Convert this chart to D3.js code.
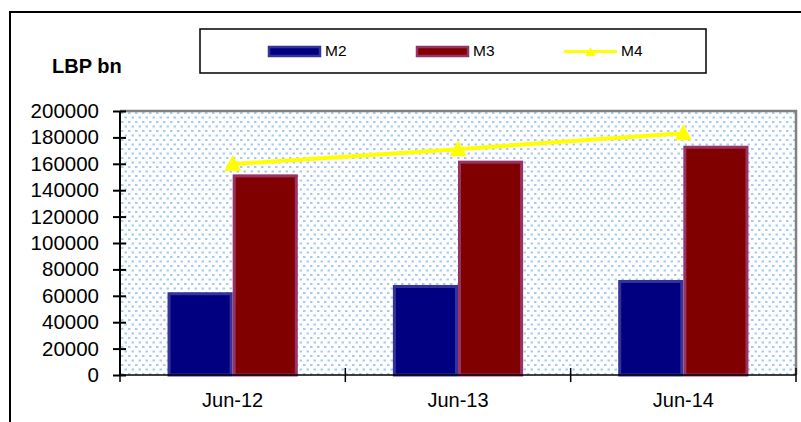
<!DOCTYPE html>
<html><head><meta charset="utf-8">
<script src="https://cdn.jsdelivr.net/npm/d3@7"></script>
<style>body{margin:0;background:#fff}svg{display:block;font-family:"Liberation Sans",Arial,sans-serif}</style>
</head><body>
<svg id="c" width="801" height="422"></svg>
<script>
const categories = ["Jun-12","Jun-13","Jun-14"];
const seriesNames = ["M2","M3","M4"];
const m2Values = [62700, 68200, 72000];
const m3Values = [152000, 162400, 173700];
const m4Values = [159800, 171100, 183200];
const yTicks = [0,20000,40000,60000,80000,100000,120000,140000,160000,180000,200000];
const yTitle = "LBP bn";

const svg = d3.select("#c");
const L = 120, R = 796, T = 111, B = 375;

// outer frame
svg.append("path").attr("d", "M10,423 L10,12 L802,12").attr("fill","none").attr("stroke","#000").attr("stroke-width",2);

// pattern
const defs = svg.append("defs");
const pat = defs.append("pattern").attr("id","dots").attr("patternUnits","userSpaceOnUse")
  .attr("width",7).attr("height",9).attr("x",L).attr("y",T);
pat.append("rect").attr("width",7).attr("height",9).attr("fill","#fff");
pat.append("rect").attr("x",1).attr("y",1).attr("width",2.5).attr("height",2).attr("fill","#a6caf0");
pat.append("rect").attr("x",4.5).attr("y",5.5).attr("width",2.5).attr("height",2).attr("fill","#a6caf0");

const x = d3.scaleBand().domain(categories).range([L, R]).padding(0);
const xs = d3.scaleBand().domain(["M2","M3"]).range([0, x.bandwidth()]).paddingInner(0).paddingOuter(0.73);
const y = d3.scaleLinear().domain([0, 200000]).range([B, T]);

// plot background
svg.append("rect").attr("x",L).attr("y",T).attr("width",R-L).attr("height",B-T).attr("fill","url(#dots)");
svg.append("path").attr("d",`M${L},${T} L${R},${T} L${R},${B}`).attr("fill","none").attr("stroke","#808080").attr("stroke-width",2.5);

// bars
const barSeries = [
  {name:"M2", values:m2Values, fill:"#000080", stroke:"#333399"},
  {name:"M3", values:m3Values, fill:"#800000", stroke:"#993366"}
];
barSeries.forEach(s => {
  svg.append("g").selectAll("rect").data(categories).join("rect")
    .attr("x", d => x(d) + xs(s.name) + 1.5)
    .attr("y", (d,i) => y(s.values[i]) + 1.5)
    .attr("width", xs.bandwidth() - 3)
    .attr("height", (d,i) => B - y(s.values[i]) - 1.5)
    .attr("fill", s.fill).attr("stroke", s.stroke).attr("stroke-width", 3);
});

// M4 line
const line = d3.line().x((d,i) => x(categories[i]) + x.bandwidth()/2).y(d => y(d));
svg.append("path").datum(m4Values).attr("d", line).attr("fill","none").attr("stroke","#ffff00").attr("stroke-width",4);
const tri = "M0,-9 L8.5,7 L-8.5,7 Z";
svg.append("g").selectAll("path").data(m4Values).join("path")
  .attr("transform", (d,i) => `translate(${x(categories[i]) + x.bandwidth()/2},${y(d)})`)
  .attr("d", tri).attr("fill","#ffff00");

// Y axis
const ya = svg.append("g").attr("transform",`translate(${L},0)`)
  .call(d3.axisLeft(y).tickValues(yTicks).tickFormat(d3.format("d")).tickSize(7).tickPadding(14));
ya.select(".domain").attr("stroke","#000").attr("stroke-width",2).attr("d",`M0,${T} V${B}`);
ya.selectAll(".tick line").attr("x1",6).attr("x2",-7).attr("stroke","#000").attr("stroke-width",2);
ya.selectAll(".tick text").attr("font-size",20.5).attr("fill","#000").attr("font-family","Liberation Sans, Arial, sans-serif");

// X axis
const xa = svg.append("g").attr("transform",`translate(0,${B})`)
  .call(d3.axisBottom(x).tickSize(0).tickPadding(18));
xa.select(".domain").attr("stroke","#000").attr("stroke-width",1.5).attr("d",`M${L},0 H${R}`);
xa.selectAll(".tick text").attr("font-size",20).attr("fill","#000").attr("font-family","Liberation Sans, Arial, sans-serif");
const edges = categories.map(c => x(c)).concat([x(categories[categories.length-1]) + x.bandwidth()]);
svg.append("g").selectAll("line").data(edges).join("line")
  .attr("x1", d => d).attr("x2", d => d).attr("y1", B - 7).attr("y2", B + 7)
  .attr("stroke","#000").attr("stroke-width",1.5);

// title
svg.append("text").attr("x",52).attr("y",73).attr("font-size",20).attr("font-weight","bold").text(yTitle);

// legend
svg.append("rect").attr("x",200).attr("y",29).attr("width",506).attr("height",44).attr("fill","#fff").attr("stroke","#000").attr("stroke-width",1.5);
const lg = [
  {name:"M2", x:268, fill:"#000080", stroke:"#333399", type:"bar"},
  {name:"M3", x:416, fill:"#800000", stroke:"#993366", type:"bar"},
  {name:"M4", x:564, type:"line"}
];
lg.forEach(l => {
  if (l.type === "bar") {
    svg.append("rect").attr("x", l.x+1).attr("y", 47).attr("width", 51).attr("height", 9)
      .attr("fill", l.fill).attr("stroke", l.stroke).attr("stroke-width", 2.5);
  } else {
    svg.append("line").attr("x1", l.x).attr("x2", l.x+53).attr("y1", 51.5).attr("y2", 51.5).attr("stroke","#ffff00").attr("stroke-width",3);
    svg.append("path").attr("transform",`translate(${l.x+26.5},52)`).attr("d","M0,-5 L5,4 L-5,4 Z").attr("fill","#ffff00");
  }
  svg.append("text").attr("x", l.x+57).attr("y", 56).attr("font-size", 15.5).text(l.name);
});
</script>
</body></html>
